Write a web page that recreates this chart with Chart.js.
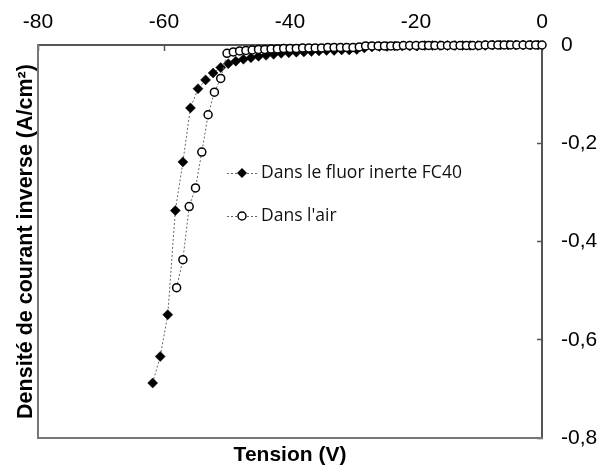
<!DOCTYPE html>
<html>
<head>
<meta charset="utf-8">
<script src="https://cdn.jsdelivr.net/npm/chart.js@4.4.1/dist/chart.umd.min.js"></script>
<style>
  html, body { margin: 0; padding: 0; background: #fff; }
  #wrap { width: 602px; height: 470px; }
</style>
</head>
<body>
<div id="wrap"><canvas id="iv-chart" width="602" height="470"></canvas></div>
<script>
const xTicks = [-80, -60, -40, -20, 0];
const yTicks = [0, -0.2, -0.4, -0.6, -0.8];
const seriesNames = ["Dans le fluor inerte FC40", "Dans l'air"];

// tension (V) / densité (A/cm2) - fluor FC40
const fluorV = [-61.8, -60.6, -59.4, -58.2, -57.0, -55.8, -54.6, -53.4, -52.2, -51.0,
    -49.8, -48.6, -47.4, -46.2, -45.0, -43.8, -42.6, -41.4, -40.2, -39.0,
    -37.8, -36.6, -35.4, -34.2, -33.0, -31.8, -30.6, -29.4, -28.2, -27.0,
    -25.8, -24.6, -23.4, -22.2, -21.0, -19.8, -18.6, -17.4, -16.2, -15.0,
    -13.8, -12.6, -11.4, -10.2, -9.0, -7.8, -6.6, -5.4, -4.2, -3.0, -1.8, -0.6];
const fluorJ = [-0.688, -0.634, -0.549, -0.337, -0.238, -0.128, -0.089, -0.071, -0.057, -0.046,
    -0.038, -0.033, -0.029, -0.026, -0.023, -0.021, -0.019, -0.017, -0.016, -0.015,
    -0.014, -0.013, -0.012, -0.011, -0.011, -0.010, -0.010, -0.009, -0.006, -0.004,
    -0.003, -0.003, -0.002, -0.002, -0.002, -0.002, -0.001, -0.001, -0.001, -0.001,
    -0.001, -0.001, -0.001, -0.001, -0.001, 0, 0, 0, 0, 0, 0, 0];

// dans l'air
const airV = [-58, -57, -56, -55, -54, -53, -52, -51, -50, -49, -48, -47, -46, -45, -44,
    -43, -42, -41, -40, -39, -38, -37, -36, -35, -34, -33, -32, -31, -30, -29,
    -28, -27, -26, -25, -24, -23, -22, -21, -20, -19, -18, -17, -16, -15, -14,
    -13, -12, -11, -10, -9, -8, -7, -6, -5, -4, -3, -2, -1, 0];
const airJ = [-0.494, -0.437, -0.329, -0.291, -0.218, -0.142, -0.096, -0.068, -0.017, -0.014,
    -0.012, -0.011, -0.010, -0.009, -0.009, -0.008, -0.008, -0.007, -0.007, -0.007,
    -0.006, -0.006, -0.006, -0.006, -0.005, -0.005, -0.005, -0.005, -0.005, -0.004,
    -0.002, -0.002, -0.002, -0.002, -0.002, -0.002, -0.001, -0.001, -0.001, -0.001,
    -0.001, -0.001, -0.001, -0.001, -0.001, -0.001, -0.001, -0.001, -0.001, 0,
    0, 0, 0, 0, 0, 0, 0, 0, 0];

const toPoints = (xs, ys) => xs.map((x, i) => ({ x: x, y: ys[i] }));
const fmtComma = v => (v === 0 ? "0" : String(v).replace(".", ","));

const tickFont = { family: "'Liberation Sans', Arial, sans-serif", size: 21 };
const titleFont = { family: "'Liberation Sans', Arial, sans-serif", size: 21, weight: "bold" };

// légende dessinée dans la zone du graphe
const insideLegend = {
    id: "insideLegend",
    afterDatasetsDraw(chart) {
        const ctx = chart.ctx;
        const rows = [{ y: 173, shape: "diamond" }, { y: 216, shape: "circle" }];
        ctx.save();
        rows.forEach((row, i) => {
            ctx.setLineDash([2, 2]);
            ctx.strokeStyle = "#666";
            ctx.lineWidth = 1;
            ctx.beginPath();
            ctx.moveTo(227, row.y + 0.5);
            ctx.lineTo(257, row.y + 0.5);
            ctx.stroke();
            ctx.setLineDash([]);
            ctx.beginPath();
            if (row.shape === "diamond") {
                ctx.moveTo(242, row.y - 5);
                ctx.lineTo(247, row.y);
                ctx.lineTo(242, row.y + 5);
                ctx.lineTo(237, row.y);
                ctx.closePath();
                ctx.fillStyle = "#000";
                ctx.fill();
            } else {
                ctx.arc(242, row.y, 4, 0, Math.PI * 2);
                ctx.fillStyle = "#fff";
                ctx.fill();
                ctx.lineWidth = 1.5;
                ctx.strokeStyle = "#000";
                ctx.stroke();
            }
            ctx.fillStyle = "#111";
            ctx.font = "17.5px 'Open Sans', sans-serif";
            ctx.textAlign = "left";
            ctx.textBaseline = "middle";
            ctx.fillText(seriesNames[i], 261, row.y);
        });
        ctx.restore();
    }
};

document.addEventListener("DOMContentLoaded", () => {
    const ctx = document.getElementById("iv-chart").getContext("2d");
    new Chart(ctx, {
        type: "scatter",
        data: {
            datasets: [{
                label: seriesNames[0],
                data: toPoints(fluorV, fluorJ),
                showLine: true,
                order: 1,
                clip: false,
                borderColor: "#666",
                borderWidth: 1,
                borderDash: [2, 2],
                pointStyle: "rectRot",
                pointRadius: 5,
                pointBackgroundColor: "#000",
                pointBorderColor: "#000",
                pointBorderWidth: 0.5
            }, {
                label: seriesNames[1],
                data: toPoints(airV, airJ),
                showLine: true,
                order: 0,
                clip: false,
                borderColor: "#666",
                borderWidth: 1,
                borderDash: [2, 2],
                pointStyle: "circle",
                pointRadius: 4,
                pointBackgroundColor: "#fff",
                pointBorderColor: "#000",
                pointBorderWidth: 1.5
            }]
        },
        options: {
            responsive: false,
            animation: false,
            devicePixelRatio: 1,
            layout: { padding: 0 },
            plugins: {
                legend: { display: false },
                tooltip: { enabled: false }
            },
            scales: {
                x: {
                    type: "linear",
                    position: "top",
                    min: -80,
                    max: 0,
                    afterBuildTicks: s => { s.ticks = xTicks.map(v => ({ value: v })); },
                    afterFit: s => { s.height = 45; s.paddingLeft = 0; s.paddingRight = 0; },
                    ticks: { font: tickFont, color: "#000", padding: 16, maxRotation: 0, callback: v => String(v) },
                    grid: { drawOnChartArea: false, drawTicks: true, tickLength: -6, tickColor: "#555", tickWidth: 1.5 },
                    border: { color: "#555", width: 2 }
                },
                y: {
                    type: "linear",
                    position: "right",
                    min: -0.8,
                    max: 0,
                    afterBuildTicks: s => { s.ticks = yTicks.map(v => ({ value: v })); },
                    afterFit: s => { s.width = 60; s.paddingTop = 0; s.paddingBottom = 0; },
                    ticks: { font: tickFont, color: "#000", padding: 24, callback: fmtComma },
                    grid: { drawOnChartArea: false, drawTicks: true, tickLength: -5, tickColor: "#555", tickWidth: 1.5 },
                    border: { color: "#555", width: 2 }
                },
                x2: {
                    type: "linear",
                    position: "bottom",
                    min: -80,
                    max: 0,
                    afterFit: s => { s.height = 32; s.paddingLeft = 0; s.paddingRight = 0; },
                    ticks: { display: false },
                    grid: { display: false },
                    border: { color: "#777", width: 2 },
                    title: { display: true, text: "Tension (V)", font: titleFont, color: "#000", padding: { top: 0, bottom: 2 } }
                },
                y2: {
                    type: "linear",
                    position: "left",
                    min: -0.8,
                    max: 0,
                    afterFit: s => { s.width = 38; s.paddingTop = 0; s.paddingBottom = 0; },
                    ticks: { display: false },
                    grid: { display: false },
                    border: { color: "#777", width: 2 },
                    title: { display: true, text: "Densité de courant inverse (A/cm²)", font: { family: "'Liberation Sans', Arial, sans-serif", size: 21.5, weight: "bold" }, color: "#000", padding: { top: 13, bottom: 0 } }
                }
            }
        },
        plugins: [insideLegend]
    });
});
</script>
</body>
</html>
